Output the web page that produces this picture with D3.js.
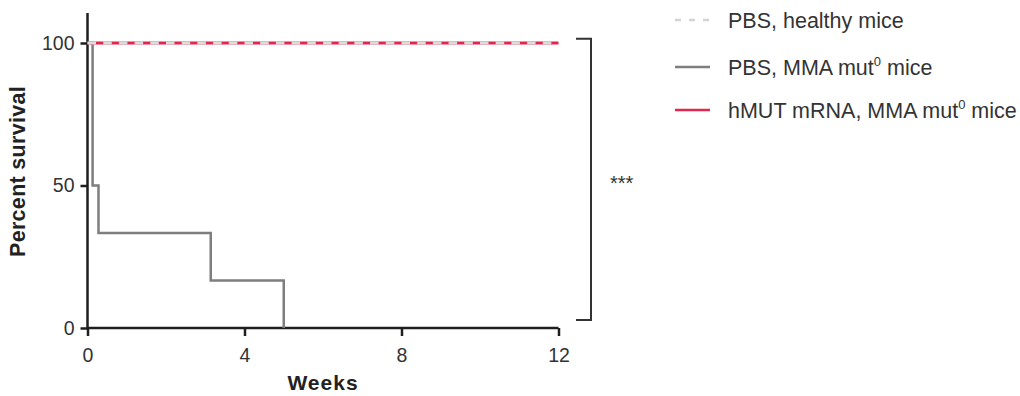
<!DOCTYPE html>
<html><head><meta charset="utf-8">
<script src="https://cdn.jsdelivr.net/npm/d3@7"></script>
<style>body{margin:0;background:#fff;} text{font-family:"Liberation Sans",Arial,sans-serif;}</style>
</head><body>
<svg id="c" width="1020" height="396"></svg>
<script>
const xTicks = [0, 4, 8, 12];
const yTicks = [0, 50, 100];
const healthyWeeks = [0, 12];
const healthySurvival = [100, 100];
const mmaWeeks = [0, 0.13, 0.28, 3.14, 5.0];
const mmaSurvival = [100, 50, 33.3, 16.7, 0];
const hmutWeeks = [0, 12];
const hmutSurvival = [100, 100];
const legendLabels = ["PBS, healthy mice", "PBS, MMA mut|0| mice", "hMUT mRNA, MMA mut|0| mice"];
const significance = "***";

const svg = d3.select("#c");
const x = d3.scaleLinear().domain([0, 12]).range([87.5, 558.5]);
const y = d3.scaleLinear().domain([0, 100]).range([328, 43]);
const ink = "#1e1e1e";

const xAxis = svg.append("g").attr("transform", `translate(0,${y(0)})`)
  .call(d3.axisBottom(x).tickValues(xTicks).tickSize(8).tickPadding(12));
const yAxis = svg.append("g").attr("transform", `translate(${x(0)},0)`)
  .call(d3.axisLeft(y).tickValues(yTicks).tickSize(7).tickPadding(6));
[xAxis, yAxis].forEach(a => {
  a.select(".domain").remove();
  a.selectAll("line").attr("stroke", ink).attr("stroke-width", 2.5);
  a.selectAll("text").attr("fill", "#333").style("font-size", "19.5px")
    .style("font-family", "'Liberation Sans',Arial,sans-serif");
});
// axis lines
svg.append("line").attr("x1", x(0)).attr("x2", x(12)).attr("y1", y(0)).attr("y2", y(0))
  .attr("stroke", ink).attr("stroke-width", 2.5);
svg.append("line").attr("x1", x(0)).attr("x2", x(0)).attr("y1", 13).attr("y2", y(0) + 1.25)
  .attr("stroke", ink).attr("stroke-width", 2.5);

const line = d3.line().x(d => x(d[0])).y(d => y(d[1])).curve(d3.curveStepAfter);
const zip = (a, b) => a.map((v, i) => [v, b[i]]);

svg.append("path").attr("d", line(zip(mmaWeeks, mmaSurvival)))
  .attr("fill", "none").attr("stroke", "#7e7e7e").attr("stroke-width", 2.5);
svg.append("path").attr("d", line(zip(hmutWeeks, hmutSurvival)))
  .attr("fill", "none").attr("stroke", "#e2264d").attr("stroke-width", 3);
svg.append("path").attr("d", line(zip(healthyWeeks, healthySurvival)))
  .attr("fill", "none").attr("stroke", "#dcdcdc").attr("stroke-width", 3)
  .attr("stroke-dasharray", "8.5,7.2");

// axis titles
svg.append("text").attr("x", 323).attr("y", 390).attr("text-anchor", "middle")
  .style("font-size", "21px").style("font-weight", "bold").style("letter-spacing", "1px").attr("fill", "#222").text("Weeks");
svg.append("text").attr("transform", `translate(25,171.5) rotate(-90)`).attr("text-anchor", "middle")
  .style("font-size", "21.5px").style("font-weight", "bold").style("letter-spacing", "0.3px").attr("fill", "#222").text("Percent survival");

// significance bracket
const bx = 591, btop = y(101.5), bbot = y(2.8);
svg.append("path").attr("d", `M576,${btop}H${bx}V${bbot}H576`).attr("fill", "none")
  .attr("stroke", "#333").attr("stroke-width", 2);
svg.append("text").attr("x", 610).attr("y", 189.5).style("font-size", "20px").attr("fill", "#333").text(significance);

// legend
const legY = [20, 67, 110];
const legStyles = [
  {stroke: "#d4d4d4", dash: "6,8"},
  {stroke: "#7e7e7e", dash: null},
  {stroke: "#e2264d", dash: null}
];
legendLabels.forEach((lab, i) => {
  svg.append("line").attr("x1", 675).attr("x2", 710).attr("y1", legY[i]).attr("y2", legY[i])
    .attr("stroke", legStyles[i].stroke).attr("stroke-width", 2.5)
    .attr("stroke-dasharray", legStyles[i].dash);
  const t = svg.append("text").attr("x", 728).attr("y", legY[i] + 8)
    .style("font-size", "21.5px").attr("fill", "#333");
  lab.split("|").forEach((part, j) => {
    if (j % 2 === 1) t.append("tspan").attr("dy", -9).style("font-size", "13px").text(part);
    else if (j > 0) t.append("tspan").attr("dy", 9).text(part);
    else t.append("tspan").text(part);
  });
});
</script>
</body></html>
